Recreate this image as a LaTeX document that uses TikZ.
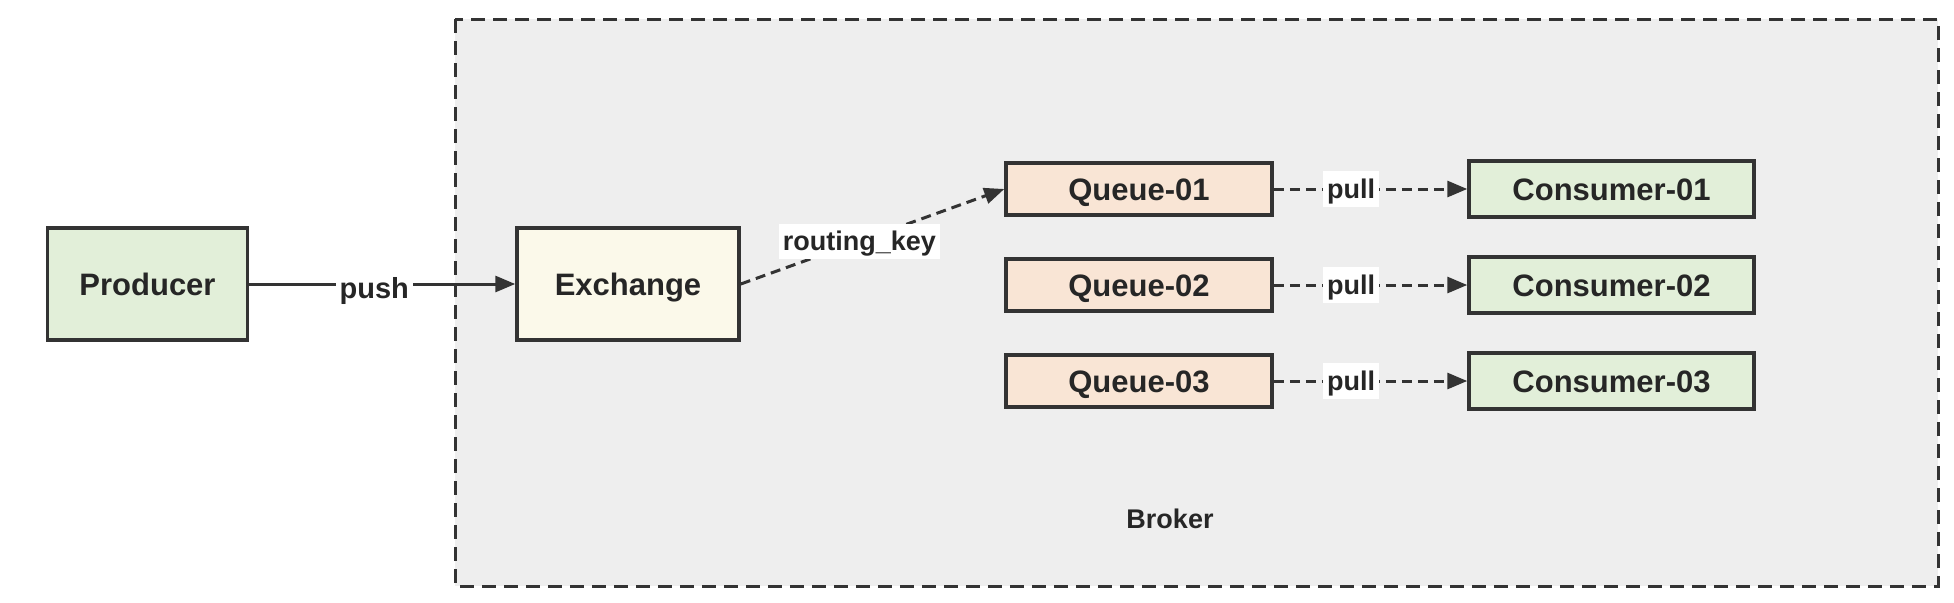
\documentclass[tikz,border=0pt]{standalone}
\usepackage{fontspec}
\setmainfont{Liberation Sans}
\usetikzlibrary{arrows.meta}
\definecolor{boxgreen}{RGB}{226,239,217}
\definecolor{boxyellow}{RGB}{251,249,234}
\definecolor{boxpeach}{RGB}{249,229,213}
\definecolor{brokergray}{RGB}{238,238,238}
\definecolor{linegray}{RGB}{51,51,51}
\definecolor{textgray}{RGB}{38,38,38}

\begin{document}
\begin{tikzpicture}[x=0.5pt,y=-0.5pt,
	box/.style={draw=linegray,line width=1.75pt,inner sep=0pt,text height=11.2pt,text depth=0pt,text=textgray,font=\fontsize{15.5}{18}\selectfont\bfseries},
	lbl/.style={fill=white,inner xsep=2pt,inner ysep=4pt,text height=9.7pt,text depth=0pt,text=textgray,font=\fontsize{13.5}{16}\selectfont\bfseries},
	conn/.style={draw=linegray,line width=1.5pt,-{Triangle[length=10pt,width=8pt]}},
	dashconn/.style={conn,dash pattern=on 5pt off 3pt}]
				\useasboundingbox (0,0) rectangle (1954,602);
				
				% Broker
				\draw[fill=brokergray,draw=linegray,line width=1.5pt,dash pattern=on 7pt off 4pt] (455,19) rectangle (1938,586);
				\node[text=textgray,font=\fontsize{13.5}{16}\selectfont\bfseries] (broker) at (1170,519) {Broker};
				
				% Producer and exchange
				\node[box,fill=boxgreen,minimum width=100pt,minimum height=56pt] (prod) at (147.5,284) {Producer};
				\node[box,fill=boxyellow,minimum width=111pt,minimum height=56pt] (exch) at (628,284) {Exchange};
				\draw[conn] (prod) -- node[lbl,pos=0.47,yshift=-2pt,text height=10.4pt,font=\fontsize{14.5}{17}\selectfont\bfseries] {push} (exch);
				
				% Queues and consumers
				\foreach \i/\y in {1/189,2/285,3/381} {
					\node[box,fill=boxpeach,minimum width=133pt,minimum height=26pt] (q\i) at (1139,\y) {Queue-0\i};
					\node[box,fill=boxgreen,minimum width=142.5pt,minimum height=28pt] (c\i) at (1611.5,\y) {Consumer-0\i};
					\draw[dashconn] (q\i) -- node[lbl,pos=0.4] {pull} (c\i);
				}
				
				% Routing
				\draw[dashconn] (exch.east) -- node[lbl,pos=0.45] {routing\_key} (q1.west);
			\end{tikzpicture}
\end{document}
